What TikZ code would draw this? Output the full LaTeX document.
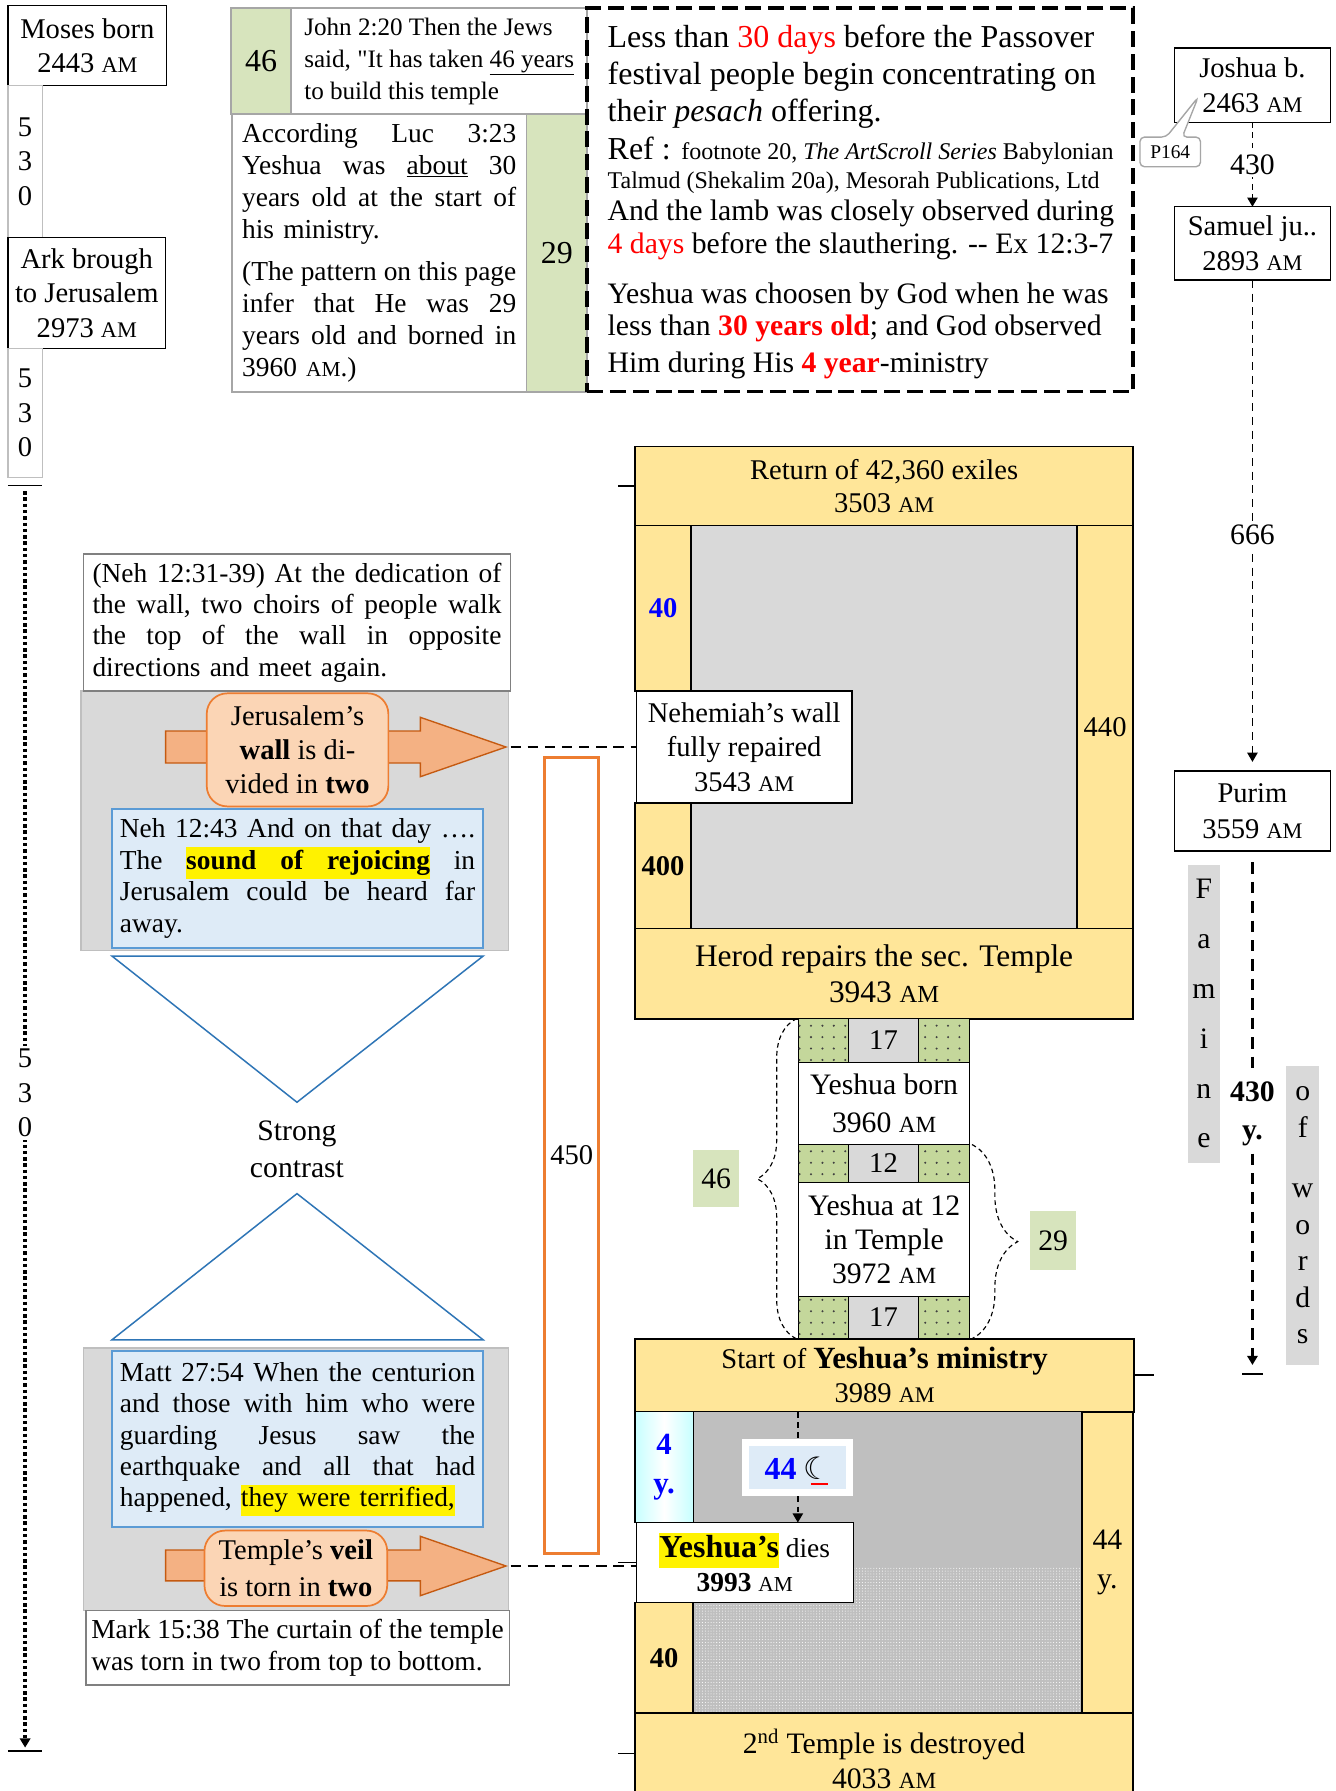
\documentclass[tikz,border=0pt]{standalone}
\usepackage{fontspec}
\setmainfont{Liberation Serif}[Ligatures=TeXOff]
\newfontfamily\scfont[Scale=0.78]{Liberation Serif}
\newfontfamily\dejavu{DejaVu Sans}
\usetikzlibrary{arrows.meta,patterns.meta,decorations.pathreplacing}
\definecolor{gold}{HTML}{FFE699}
\definecolor{lgray}{HTML}{D9D9D9}
\definecolor{mgray}{HTML}{BFBFBF}
\definecolor{bgray}{HTML}{A6A6A6}
\definecolor{lgreen}{HTML}{D7E4BD}
\definecolor{dgreen}{HTML}{C4D79B}
\definecolor{lblue}{HTML}{DEEBF7}
\definecolor{bblue}{HTML}{5B9BD5}
\definecolor{tblue}{HTML}{2E75B6}
\definecolor{orfill}{HTML}{F4B183}
\definecolor{ordark}{HTML}{C55A11}
\definecolor{orlight}{HTML}{FBD5B5}
\definecolor{orline}{HTML}{ED7D31}
\definecolor{txtblue}{HTML}{0000FF}
\newcommand\AMs{{\scfont AM}}
\newcommand\FS[2]{\fontsize{#1}{#2}\selectfont}
\newcommand\JL[2]{\leavevmode\hbox to #1pt{#2}}
\newcommand\Rb[6]{\node[#1, minimum width=#4pt, minimum height=#5pt] (#2) at (#3) {#6};}
\setlength{\fboxsep}{0pt}
\begin{document}
\begin{tikzpicture}[x=1pt, y=-1pt,
  every node/.style={inner sep=0pt, outer sep=0pt},
  bx/.style={draw=black, line width=1.2pt, fill=white, align=center, anchor=north west},
  gbox/.style={bx, draw=bgray, line width=1.5pt},
  ybox/.style={bx, fill=gold, line width=1.5pt},
  dcell/.style={bx, fill=dgreen, line width=1pt, postaction={pattern={Dots[distance=10pt,radius=1pt]}, pattern color=black!75}},
  ccell/.style={bx, fill=lgray, line width=1pt},
  gstrip/.style={bx, draw=none, fill=lgray},
  bluebox/.style={bx, fill=lblue, draw=bblue, line width=2pt},
  orarrow/.style={fill=orfill, draw=ordark, line width=1.2pt},
  orbox/.style={bx, fill=orlight, draw=orline, line width=1.5pt, rounded corners=18pt},
  trib/.style={draw=tblue, line width=1.3pt},
  dline/.style={line width=1.2pt, dash pattern=on 5pt off 4pt},
  conn/.style={line width=2.5pt, dash pattern=on 9pt off 6pt},
  tipA/.style={-{Triangle[width=9pt,length=8pt]}},
  wlab/.style={fill=white, inner sep=4pt, align=center},
]
\fill[white] (0,0) rectangle (1169,1568);
\useasboundingbox (0,0) rectangle (1169,1568);

% ---------- left column ----------
\Rb{bx,font=\FS{25}{30}}{moses}{7,5}{139}{70}{Moses born\\2443 \AMs}
\Rb{bx,draw=mgray,font=\FS{25}{30}}{gapA}{7,75}{30}{133}{5\\3\\0}
\Rb{bx,font=\FS{25}{30}}{ark}{7,208}{138}{97}{Ark brough\\to Jerusalem\\2973 \AMs}
\Rb{bx,draw=mgray,font=\FS{25}{30}}{gapB}{7,305}{30}{113}{5\\3\\0}
\draw[line width=1.2pt] (7,425) -- (37,425);
\coordinate (lstart) at (22,430);
\coordinate (lend) at (22,1530);
\draw[line width=3pt, dash pattern=on 3pt off 2.5pt, tipA] (lstart) -- node[wlab, inner sep=3pt, pos=0.479, font=\FS{25}{30}]{5\\3\\0} (lend);
\draw[line width=1.2pt] (7,1533) -- (37,1533);

% ---------- top boxes ----------
\Rb{gbox,fill=lgreen,font=\FS{28}{32}}{gA}{202,7}{53}{93}{46}
\Rb{gbox,font=\FS{22}{28},align=left}{john}{255,7}{259}{93}{John 2:20 Then the Jews\\said, "It has taken \underline{46 years}\\to build this temple}
\Rb{gbox,font=\FS{24}{28},text width=240pt,align=left}{luc}{203,100}{258}{243}{%
\JL{240}{According\hfill Luc\hfill 3:23}\\
\JL{240}{Yeshua\hfill was\hfill \underline{about}\hfill 30}\\
\JL{240}{years\hfill old\hfill at\hfill the\hfill start\hfill of}\\
his ministry.\\[9pt]
\JL{240}{(The\hfill pattern\hfill on\hfill this\hfill page}\\
\JL{240}{infer\hfill that\hfill He\hfill was\hfill 29}\\
\JL{240}{years\hfill old\hfill and\hfill borned\hfill in}\\
3960 \AMs.)}
\Rb{gbox,fill=lgreen,font=\FS{28}{32}}{gB}{461,100}{53}{243}{29}
\Rb{bx,fill=none,line width=3pt,dash pattern=on 14pt off 6pt}{dbox}{514,7}{478}{336}{}
\node[anchor=base west, font=\FS{28}{32}] (dl1) at (532,42) {Less than \textcolor{red}{30 days} before the Passover};
\node[anchor=base west, font=\FS{28}{32}] (dl2) at (532,74) {festival people begin concentrating on};
\node[anchor=base west, font=\FS{28}{32}] (dl3) at (532,106) {their \textit{pesach} offering.};
\node[anchor=base west, font=\FS{28}{32}] (dl4) at (532,140) {Ref : {\FS{21}{25}footnote 20, \textit{The ArtScroll Series} Babylonian}};
\node[anchor=base west, font=\FS{21}{25}] (dl5) at (532,165) {Talmud (Shekalim 20a), Mesorah Publications, Ltd};
\node[anchor=base west, font=\FS{26}{30}] (dl6) at (532,193) {And the lamb was closely observed during};
\node[anchor=base west, font=\FS{26}{30}] (dl7) at (532,222) {\textcolor{red}{4 days} before the slauthering. -- Ex 12:3-7};
\node[anchor=base west, font=\FS{26}{30}] (dl8) at (532,266) {Yeshua was choosen by God when he was};
\node[anchor=base west, font=\FS{26}{30}] (dl9) at (532,294) {less than \textcolor{red}{\textbf{30 years old}}; and God observed};
\node[anchor=base west, font=\FS{26}{30}] (dl10) at (532,326) {Him during His \textcolor{red}{\textbf{4 year}}-ministry};

% ---------- right column ----------
\Rb{bx,font=\FS{25}{31}}{joshua}{1028,42}{137}{65}{Joshua b.\\2463 \AMs}
\Rb{bx,font=\FS{25}{31}}{samuel}{1028,181}{137}{64}{Samuel ju..\\2893 \AMs}
\Rb{bx,font=\FS{25}{32}}{purim}{1028,675}{137}{70}{Purim\\3559 \AMs}
\draw[draw=bgray, fill=white, line width=1.2pt, rounded corners=4pt] (998,146) -- (998,120) -- (1021,120) -- (1049,85) -- (1035,120) -- (1051,120) -- (1051,146) -- cycle;
\node[font=\FS{17}{20}] (p164) at (1024.5,133) {P164};
\Rb{gstrip,font=\FS{26}{43.6}}{famine}{1040,757}{28}{261}{F\\a\\m\\i\\n\\e}
\Rb{gstrip,font=\FS{26}{32}}{owords}{1126,933}{29}{262}{o\\f\\[21pt]w\\o\\r\\d\\s}
\draw[dline, tipA] (joshua.south) -- node[wlab, inner sep=2pt, font=\FS{26}{30}]{430} (samuel.north);
\draw[dline, dash pattern=on 7pt off 5pt, tipA, shorten >=8pt] (samuel.south) -- node[wlab, pos=0.52, font=\FS{26}{30}]{666} (purim.north);
\coordinate (rend) at (1096.5,1195);
\draw[line width=2.2pt, dash pattern=on 10pt off 7pt, tipA] ([yshift=-10pt]purim.south) -- node[wlab, inner sep=6pt, pos=0.5, font=\bfseries\FS{26}{33}]{430\\y.} (rend);
\draw[line width=1.5pt] ([xshift=-9pt,yshift=-8pt]rend) -- ([xshift=9pt,yshift=-8pt]rend);

% ---------- middle structure ----------
\Rb{ybox,font=\FS{25}{29}}{ret}{556,391}{436}{69}{Return of 42,360 exiles\\3503 \AMs}
\draw[line width=1.2pt] (ret.west) -- ++(-15,0);
\Rb{ybox,font=\FS{25}{29}}{ls1}{556,460}{49}{145}{\textcolor{txtblue}{\textbf{40}}}
\Rb{bx,fill=lgray,line width=1.5pt}{gry1}{605,460}{338}{353}{}
\Rb{ybox,font=\FS{25}{29}}{rs1}{943,460}{49}{353}{440}
\Rb{bx,font=\FS{25}{30}}{neh}{557,605}{189}{98}{Nehemiah’s wall\\fully repaired\\3543 \AMs}
\Rb{ybox,font=\FS{25}{29}}{ls2}{556,703}{49}{110}{\textbf{400}}
\Rb{ybox,font=\FS{27.5}{32}}{herod}{556,813}{436}{79}{Herod repairs the sec. Temple\\3943 \AMs}

\Rb{dcell}{c1a}{699,892}{44}{38}{}
\Rb{ccell,font=\FS{25}{30}}{c1b}{743,892}{61}{38}{17}
\Rb{dcell}{c1c}{804,892}{45}{38}{}
\Rb{bx,font=\FS{26}{33}}{yborn}{699,930}{150}{72}{Yeshua born\\3960 \AMs}
\Rb{dcell}{c2a}{699,1002}{44}{33}{}
\Rb{ccell,font=\FS{25}{30}}{c2b}{743,1002}{61}{33}{12}
\Rb{dcell}{c2c}{804,1002}{45}{33}{}
\Rb{bx,font=\FS{26}{29.5}}{y12}{699,1035}{150}{100}{Yeshua at 12\\in Temple\\3972 \AMs}
\Rb{dcell}{c3a}{699,1135}{44}{37}{}
\Rb{ccell,font=\FS{25}{30}}{c3b}{743,1135}{61}{37}{17}
\Rb{dcell}{c3c}{804,1135}{45}{37}{}

\draw[line width=1pt, dash pattern=on 4pt off 3pt, decorate, decoration={brace, amplitude=34pt, aspect=0.5}] ([xshift=-2pt]c3a.south west) -- ([xshift=-2pt]c1a.north west);
\draw[line width=1pt, dash pattern=on 4pt off 3pt, decorate, decoration={brace, amplitude=40pt, aspect=0.5}] ([xshift=2pt]c2c.north east) -- ([xshift=2pt]c3c.south east);
\Rb{bx,draw=none,fill=lgreen,font=\FS{26}{30}}{n46}{607,1007}{40}{50}{46}
\Rb{bx,draw=none,fill=lgreen,font=\FS{26}{30}}{n29}{902,1060}{40}{52}{29}

\Rb{ybox,font=\FS{25}{30}}{start}{556,1172}{437}{64}{Start of {\FS{27}{30}\bfseries Yeshua’s ministry}\\3989 \AMs}
\draw[line width=1.5pt] (start.east) -- ++(17,0);
\Rb{bx,left color=cyan!22,right color=cyan!22,middle color=white,text=txtblue,font=\bfseries\FS{27}{34}}{ly}{556,1236}{51}{97}{4\\y.}
\Rb{bx,fill=mgray}{gint}{607,1236}{340}{264}{}
\fill[pattern={Dots[distance=2.5pt,radius=0.45pt]}, pattern color=white] (608,1371) rectangle (946,1499);
\Rb{ybox,font=\FS{26}{34}}{rs2}{947,1236}{45}{264}{44\\y.}
\Rb{bx,draw=none,fill=white}{moonbox}{650,1260}{97}{50}{}
\node[fill=lblue, minimum width=85pt, minimum height=38pt] (moon) at (moonbox.center) {\textcolor{txtblue}{\bfseries\FS{28}{30}44}\hspace{6pt}{\dejavu\FS{27}{30}☾}};
\draw[red, line width=1.5pt] (710,1299) -- (725,1299);
\Rb{bx,font=\FS{24}{30}}{dies}{557,1333}{190}{70}{\colorbox{yellow}{\bfseries\FS{28}{30}\strut Yeshua’s} dies\\\textbf{3993} \AMs}
\draw[dline] (moonbox.north |- start.south) -- (moonbox.north);
\draw[dline, tipA] (moonbox.south) -- (moonbox.south |- dies.north);
\draw[line width=1.2pt] (dies.west) -- ++(-16,0);
\Rb{ybox,font=\FS{25}{29}}{ls3}{556,1403}{51}{97}{\textbf{40}}
\Rb{ybox,font=\FS{26}{31}}{dest}{556,1500}{436}{80}{2\textsuperscript{nd} Temple is destroyed\\4033 \AMs}
\draw[line width=1.2pt] ([yshift=5pt]dest.west) -- ++(-15,0);

% ---------- left section ----------
\Rb{bx,fill=lgray,draw=mgray}{gbg1}{71,605}{374}{227}{}
\Rb{gbox,draw=gray,font=\FS{24}{27.5},text width=358pt,align=left}{neh1}{73,485}{374}{120}{%
\JL{358}{(Neh\hfill 12:31-39)\hfill At\hfill the\hfill dedication\hfill of}\\
\JL{358}{the\hfill wall,\hfill two\hfill choirs\hfill of\hfill people\hfill walk}\\
\JL{358}{the\hfill top\hfill of\hfill the\hfill wall\hfill in\hfill opposite}\\
directions and meet again.}
\coordinate (tip1) at (443,654);
\draw[orarrow] (145,640) -- (368,640) -- (368,628) -- (tip1) -- (368,680) -- (368,668) -- (145,668) -- cycle;
\Rb{orbox,font=\FS{25}{30}}{jer}{181,607}{159}{99}{Jerusalem’s\\\textbf{wall} is di-\\vided in \textbf{two}}
\Rb{bluebox,font=\FS{24}{27.5},text width=311pt,align=left}{blue1}{98,708}{325}{122}{%
\JL{311}{Neh\hfill 12:43\hfill And\hfill on\hfill that\hfill day\hfill ….}\\
\JL{311}{The\hfill\colorbox{yellow}{\strut\bfseries sound\hspace{21pt}of\hspace{21pt}rejoicing}\hfill in}\\
\JL{311}{Jerusalem\hfill could\hfill be\hfill heard\hfill far}\\
away.}
\draw[conn] ([xshift=4pt]tip1) -- (neh.west);

\draw[trib] (98,837) -- (423,837) -- (260,965) -- cycle;
\node[font=\FS{26}{32}, align=center] (contrast) at (260,1006) {Strong\\contrast};
\draw[trib] (260,1045) -- (423,1173) -- (98,1173) -- cycle;

\Rb{bx,fill=lgray,draw=mgray}{gbg2}{73,1180}{372}{230}{}
\Rb{bluebox,font=\FS{24}{27.3},text width=311pt,align=left}{blue2}{98,1183}{325}{154}{%
\JL{311}{Matt\hfill 27:54\hfill When\hfill the\hfill centurion}\\
\JL{311}{and\hfill those\hfill with\hfill him\hfill who\hfill were}\\
\JL{311}{guarding\hfill Jesus\hfill saw\hfill the}\\
\JL{311}{earthquake\hfill and\hfill all\hfill that\hfill had}\\
happened, \colorbox{yellow}{\strut they were terrified,}}
\coordinate (tip2) at (443,1371);
\draw[orarrow] (145,1357) -- (368,1357) -- (368,1345) -- (tip2) -- (368,1397) -- (368,1384) -- (145,1384) -- cycle;
\Rb{orbox,font=\FS{25}{32}}{veil}{179,1340}{160}{66}{Temple’s \textbf{veil}\\is torn in \textbf{two}}
\Rb{gbox,draw=gray,font=\FS{24}{28},align=left}{mark}{75,1410}{371}{65}{Mark 15:38 The curtain of the temple\\was torn in two from top to bottom.}
\draw[conn] ([xshift=4pt]tip2) -- (tip2 -| dies.west);

\Rb{bx,draw=orline,line width=2.5pt,font=\FS{25}{30}}{r450}{477,663}{47}{697}{450}
\end{tikzpicture}
\end{document}
